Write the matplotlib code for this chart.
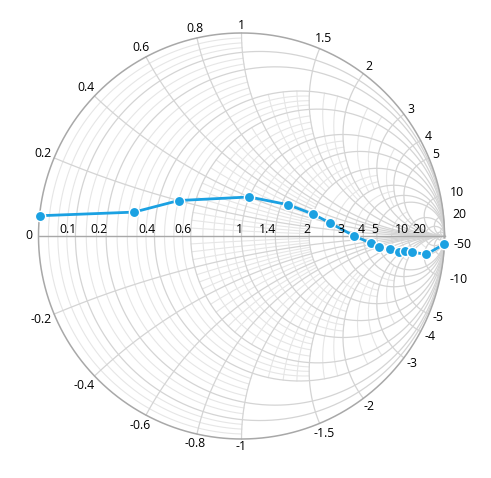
import numpy as np
import matplotlib
matplotlib.use("Agg")
import matplotlib.pyplot as plt

# normalised impedance points of the series
resistance = [0, 0.3, 0.5, 1, 1.5, 2, 2.5, 3.5, 4.5, 5, 6, 7, 8, 9, 10, 1]
reactance = [0.05, 0.1, 0.2, 0.4, 0.5, 0.5, 0.4, 0, -0.55, -1.05, -1.7, -2.75, -3.5, -4.8, -11, -50]

# axis labels
r_labels = [0, 0.1, 0.2, 0.4, 0.6, 1, 1.4, 2, 3, 4, 5, 10, 20]
x_labels = [0.2, 0.4, 0.6, 0.8, 1, 1.5, 2, 3, 4, 5, 10, 20,
            -0.2, -0.4, -0.6, -0.8, -1, -1.5, -2, -3, -4, -5, -10, -50]

# major grid values
r_major = [0.1, 0.2, 0.4, 0.6, 1, 1.4, 2, 3, 4, 5, 10, 20, 50]
x_major = [0.2, 0.4, 0.6, 0.8, 1, 1.5, 2, 3, 4, 5, 10, 20, 50]

# minor resistance circles: (lo, hi, divisions, |x| limit)
r_minor = [(0, 0.1, 4, 1), (0.1, 0.2, 3, 1), (0.2, 0.4, 5, 1), (0.4, 0.6, 4, 1.5),
           (0.6, 1, 5, 1.5), (1, 1.4, 3, 2), (1.4, 2, 3, 2), (2, 3, 3, 3),
           (3, 4, 2, 4), (5, 10, 3, 5), (10, 20, 2, 10)]
# minor reactance arcs: (lo, hi, divisions, r from, r to)
x_minor = [(0, 0.2, 4, 0.6, 2), (0.2, 0.4, 4, 0.6, 2), (0.4, 0.6, 3, 0.6, 2),
           (0.6, 0.8, 3, 0.6, 2), (0.8, 1, 2, 0.6, 2), (1, 1.5, 4, 0.4, 2),
           (1.5, 2, 3, 0.4, 3), (2, 3, 3, 0.4, 3), (3, 4, 2, 1, 5)]

CX, CY, RAD = 241.5, 236, 203.0
W, H = 491, 478

BLUE = '#1ba1e2'
MAJOR = '#d4d4d4'
MINOR = '#e6e6e6'
EDGE = '#a8a8a8'


def gamma(r, x):
    z = np.asarray(r) + 1j * np.asarray(x)
    g = (z - 1) / (z + 1)
    return g.real, g.imag


def span(lo, hi, n=700):
    # dense sampling between lo and hi (hi may be inf)
    a, b = np.arctan(lo), np.arctan(hi)
    b = min(b, np.pi / 2 - 1e-7)
    return np.tan(np.linspace(a, b, n))


def r_circle(ax, r, xmax, color, lw):
    xs = span(0, xmax)
    xs = np.concatenate([-xs[::-1], xs])
    u, v = gamma(np.full_like(xs, r), xs)
    ax.plot(u, v, color=color, lw=lw, zorder=1)


def x_arc(ax, x, r0, r1, color, lw):
    rs = span(r0, r1)
    for s in (1, -1):
        u, v = gamma(rs, np.full_like(rs, s * x))
        ax.plot(u, v, color=color, lw=lw, zorder=1)


fig = plt.figure(figsize=(W / 100, H / 100), dpi=100)
ax = fig.add_axes([0, 0, 1, 1])
ax.set_xlim(-CX / RAD, (W - CX) / RAD)
ax.set_ylim((CY - H) / RAD, CY / RAD)
ax.axis('off')
plt.rcParams['font.family'] = ['Open Sans', 'DejaVu Sans']

# minor grid
for lo, hi, n, xl in r_minor:
    for r in np.linspace(lo, hi, n + 1)[1:-1]:
        r_circle(ax, r, xl, MINOR, 0.8)
for lo, hi, n, ra, rb in x_minor:
    for x in np.linspace(lo, hi, n + 1)[1:-1]:
        x_arc(ax, x, ra, rb, MINOR, 0.8)

# major grid
for r in r_major:
    r_circle(ax, r, np.inf, MAJOR, 0.9)
for x in x_major:
    x_arc(ax, x, 0, np.inf, MAJOR, 0.9)

# outer circle and horizontal axis
t = np.linspace(0, 2 * np.pi, 800)
ax.plot(np.cos(t), np.sin(t), color=EDGE, lw=1.1, zorder=2)
ax.plot([-1, 1], [0, 0], color=EDGE, lw=1.0, zorder=2)

# series
u, v = gamma(resistance, reactance)
ax.plot(u, v, color=BLUE, lw=2.0, marker='o', ms=7.4, mfc=BLUE,
        mec='white', mew=1.0, zorder=4)

fs = 8.8
PT = 0.72

# resistance labels along the horizontal axis
for r in r_labels:
    u0, _ = gamma(r, 0)
    if r == 0:
        ax.annotate('0', (u0, 0), xytext=(-6 * PT, 0), textcoords='offset points',
                    ha='right', va='center', fontsize=fs, zorder=5)
    else:
        ax.annotate(f'{r:g}', (u0, 0), xytext=(1 * PT, 3 * PT), textcoords='offset points',
                    ha='right', va='baseline', fontsize=fs, zorder=5)


def text_w(s):
    w = 0
    for c in s:
        w += 3.2 if c == '.' else (4.5 if c == '-' else 6.9)
    return w


# reactance labels round the outer circle
for x in x_labels:
    u0, v0 = gamma(0, x)
    s = f'{x:g}'
    w, h = text_w(s), 9.0
    gap = 9 if abs(v0) < 0.25 else 3
    d = gap + abs(u0) * w / 2 + abs(v0) * h / 2
    ax.annotate(s, (u0, v0), xytext=(u0 * d * PT, v0 * d * PT), textcoords='offset points',
                ha='center', va='center', fontsize=fs, zorder=5)

fig.savefig('out.png', dpi=100, facecolor='white')
